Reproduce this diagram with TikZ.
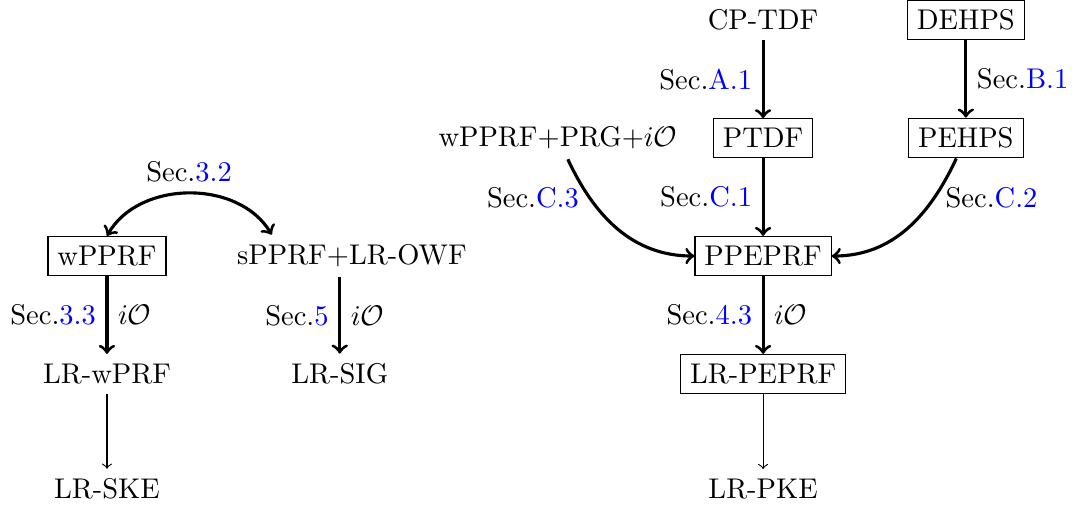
\documentclass[tikz,border=0pt]{standalone}
\usepackage{amsmath}
\usepackage{amssymb}
\usepackage{tikz}
\usetikzlibrary{positioning}
\usetikzlibrary{arrows}
\tikzstyle{block} = [rectangle, draw, thin]
\tikzstyle{line} = [draw, line width=1.1pt, ->]
\tikzstyle{weak} = [draw, thin, ->]
\newcommand{\seclink}[1]{Sec.\textcolor{blue}{#1}}
\newcommand{\iO}{$i\mathcal{O}$}

\begin{document}
\begin{tikzpicture}[node distance=1.455cm, on grid]
            \useasboundingbox (-1.319,-3.058) rectangle (11.936,3.157);
            \node[block](wpprf) at (0,0){wPPRF};
            \node[right=3.02cm of wpprf](sprf){sPPRF+LR-OWF};
            \node[below=of wpprf](lrwprf){LR-wPRF};
            \node[below=1.42cm of lrwprf](lrske){LR-SKE};
            \node[below left=1.455cm and 0.15cm of sprf](lrsig){LR-SIG};
            \node[block, right=5.07cm of sprf](ppeprf){PPEPRF};
            \node[block, above=of ppeprf](ptdf){PTDF};
            \node[above=of ptdf](cptdf){CP-TDF};
            \node[block, right=2.5cm of cptdf](dehps){DEHPS};
            \node[block, below=of dehps](pehps){PEHPS};
            \node[left=2.53cm of ptdf](wprg){wPPRF+PRG+\iO};
            \node[block, below=of ppeprf](lrpeprf){LR-PEPRF};
            \node[below=1.42cm of lrpeprf](lrpke){LR-PKE};
            \coordinate (sprfin) at ([xshift=0.55cm]sprf.north west);
            % left part
            \path[line, <->] (wpprf.north) to[bend left=60] node[above]{\seclink{3.2}} (sprfin);
            \path[line] (wpprf) -- node[left]{\seclink{3.3}} node[right]{\iO} (lrwprf);
            \path[line] (sprf.south -| lrsig) -- node[left]{\seclink{5}} node[right]{\iO} (lrsig);
            \path[weak] (lrwprf) -- (lrske);
            % right part
            \path[line] (cptdf) -- node[left]{\seclink{A.1}} (ptdf);
            \path[line] (dehps) -- node[right]{\seclink{B.1}} (pehps);
            \path[line] (ptdf) -- node[left]{\seclink{C.1}} (ppeprf);
            \path[line] (wprg) to[out=-65, in=180] node[pos=0.25, left]{\seclink{C.3}} (ppeprf);
            \path[line] (pehps) to[out=-115, in=0] node[pos=0.25, right]{\seclink{C.2}} (ppeprf);
            \path[line] (ppeprf) -- node[left]{\seclink{4.3}} node[right]{\iO} (lrpeprf);
            \path[weak] (lrpeprf) -- (lrpke);
        \end{tikzpicture}
\end{document}
